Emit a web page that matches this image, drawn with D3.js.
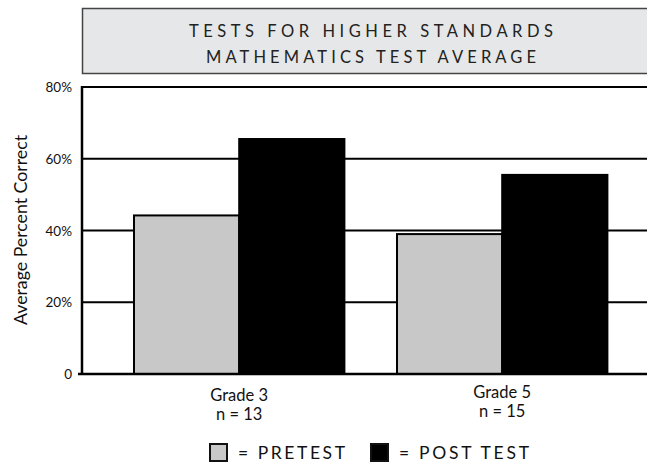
<!DOCTYPE html>
<html>
<head>
<meta charset="utf-8">
<script src="https://cdn.jsdelivr.net/npm/d3@7"></script>
<style>
  body { margin: 0; background: #fff; }
  svg { display: block; font-family: Lato, "Open Sans", sans-serif; }
</style>
</head>
<body>
<svg id="chart"></svg>
<script>
const WIDTH = 647;
const HEIGHT = 464;

const grades = ["Grade 3", "Grade 5"];
const groupSizes = ["n = 13", "n = 15"];
const series = ["PRETEST", "POST TEST"];
const pretest = [44.2, 39];
const postTest = [65.5, 55.5];
const yTicks = [0, 20, 40, 60, 80];
const titleLines = ["TESTS FOR HIGHER STANDARDS", "MATHEMATICS TEST AVERAGE"];

const COLORS = { "PRETEST": "#c8c8c8", "POST TEST": "#000" };

const $svg = d3.select("#chart").attr("width", WIDTH).attr("height", HEIGHT);

// title box
$svg.append("rect")
  .attr("x", 82.5).attr("y", 8.5).attr("width", 600).attr("height", 65)
  .attr("fill", "#e6e7e8").attr("stroke", "#444").attr("stroke-width", 1.5);

const titleWidths = [364, 330];
$svg.selectAll("text.title")
  .data(titleLines)
  .enter()
  .append("text")
  .attr("class", "title")
  .attr("x", 371)
  .attr("y", (d, i) => 37 + i * 25.5)
  .attr("text-anchor", "middle")
  .attr("font-size", 16.5)
  .attr("textLength", (d, i) => titleWidths[i])
  .attr("lengthAdjust", "spacing")
  .attr("fill", "#222")
  .text(d => d);

const y = d3.scaleLinear().domain([0, 80]).range([374, 87]);
const x = d3.scaleBand().domain(grades).range([107.7, 633.7]).paddingInner(0.2).paddingOuter(0.1);
const xs = d3.scaleBand().domain(series).range([0, x.bandwidth()]);

// gridlines (20, 40, 60, 80)
$svg.append("g")
  .selectAll("line")
  .data(yTicks.filter(d => d > 0))
  .enter()
  .append("line")
  .attr("x1", 82).attr("x2", WIDTH)
  .attr("y1", d => y(d)).attr("y2", d => y(d))
  .attr("stroke", "#000").attr("stroke-width", 2);

// bars
const rows = grades.map((g, i) => ({ grade: g, values: [
  { key: "PRETEST", value: pretest[i] },
  { key: "POST TEST", value: postTest[i] }
] }));

$svg.append("g")
  .selectAll("g")
  .data(rows)
  .enter()
  .append("g")
  .attr("transform", d => `translate(${x(d.grade)},0)`)
  .selectAll("rect")
  .data(d => d.values)
  .enter()
  .append("rect")
  .attr("x", d => xs(d.key))
  .attr("y", d => y(d.value))
  .attr("width", xs.bandwidth())
  .attr("height", d => y(0) - y(d.value))
  .attr("fill", d => COLORS[d.key])
  .attr("stroke", "#000")
  .attr("stroke-width", 2);

// axes lines
$svg.append("line")
  .attr("x1", 82).attr("x2", 82).attr("y1", y(80) - 1).attr("y2", y(0) + 1)
  .attr("stroke", "#000").attr("stroke-width", 2.5);
$svg.append("line")
  .attr("x1", 78).attr("x2", WIDTH).attr("y1", y(0)).attr("y2", y(0))
  .attr("stroke", "#000").attr("stroke-width", 2.5);

// y tick labels
$svg.append("g")
  .selectAll("text")
  .data(yTicks)
  .enter()
  .append("text")
  .attr("x", 72)
  .attr("y", d => y(d) + 5)
  .attr("text-anchor", "end")
  .attr("font-size", 13.5)
  .attr("fill", "#111")
  .text(d => d === 0 ? "0" : d + "%");

$svg.append("text")
  .attr("transform", "translate(27,230) rotate(-90)")
  .attr("text-anchor", "middle")
  .attr("font-size", 16.5)
  .attr("textLength", 190)
  .attr("lengthAdjust", "spacingAndGlyphs")
  .attr("fill", "#111")
  .text("Average Percent Correct");

// category labels
const catY = [401, 398];
const catLabels = $svg.append("g")
  .selectAll("g")
  .data(grades)
  .enter()
  .append("g")
  .attr("transform", (d, i) => `translate(${x(d) + x.bandwidth() / 2},${catY[i]})`);
catLabels.append("text")
  .attr("text-anchor", "middle").attr("font-size", 16.5).attr("fill", "#111")
  .text(d => d);
catLabels.append("text")
  .attr("y", 18.5)
  .attr("text-anchor", "middle").attr("font-size", 16.5).attr("fill", "#111")
  .text((d, i) => groupSizes[i]);

// legend
const legendX = [210, 371];
const legendTextWidths = [107, 130];
const legend = $svg.append("g")
  .selectAll("g")
  .data(series)
  .enter()
  .append("g")
  .attr("transform", (d, i) => `translate(${legendX[i]},444)`);
legend.append("rect")
  .attr("width", 17).attr("height", 17)
  .attr("fill", d => COLORS[d]).attr("stroke", "#111").attr("stroke-width", 2);
legend.append("text")
  .attr("x", 28).attr("y", 15)
  .attr("font-size", 17.5)
  .attr("textLength", (d, i) => legendTextWidths[i])
  .attr("lengthAdjust", "spacing")
  .attr("fill", "#111")
  .text(d => "= " + d);
</script>
</body>
</html>
